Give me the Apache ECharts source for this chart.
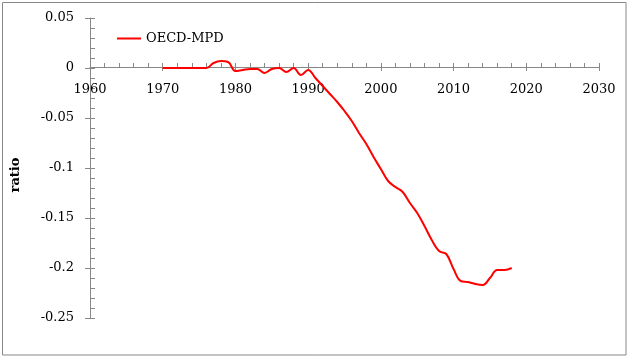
<!DOCTYPE html>
<html><head><meta charset="utf-8">
<script src="https://cdn.jsdelivr.net/npm/echarts@6/dist/echarts.min.js"></script>
<style>html,body{margin:0;padding:0;background:#fff}#c{width:629px;height:358px}</style>
</head><body><div id="c"></div>
<script>
var years = [1970,1971,1972,1973,1974,1975,1976,1977,1978,1979,1980,1981,1982,1983,1984,1985,1986,1987,1988,1989,1990,1991,1992,1993,1994,1995,1996,1997,1998,1999,2000,2001,2002,2003,2004,2005,2006,2007,2008,2009,2010,2011,2012,2013,2014,2015,2016,2017,2018];
var oecdMpd = [0,0,0,0,0,0,0,0.005,0.007,0.006,-0.003,-0.002,-0.001,-0.001,-0.005,-0.001,0,-0.004,0,-0.007,-0.002,-0.010,-0.018,-0.026,-0.034,-0.043,-0.053,-0.065,-0.076,-0.089,-0.101,-0.113,-0.119,-0.124,-0.135,-0.145,-0.158,-0.172,-0.183,-0.186,-0.201,-0.213,-0.214,-0.216,-0.217,-0.210,-0.202,-0.202,-0.200];
var seriesName = 'OECD-MPD';
var yName = 'ratio';

var font = 'DejaVu Serif';
var axisColor = '#888888';
var chart = echarts.init(document.getElementById('c'));
var data = years.map(function(y,i){return [y, oecdMpd[i]];});
// x axis drawn at y = 0: grid bottom at 318, zero at 67 -> offset -251
var zeroOffset = -251;
chart.setOption({
  animation:false,
  backgroundColor:'#ffffff',
  graphic:[{type:'rect', shape:{x:2.5,y:2.5,width:623.5,height:352.5}, style:{fill:'none', stroke:axisColor, lineWidth:1}, silent:true}],
  grid:{left:90, right:30, top:18, bottom:40, containLabel:false, outerBoundsMode:'none'},
  legend:{show:true, left:117, top:32, padding:0, itemWidth:24, itemHeight:10, itemGap:3,
    textStyle:{fontFamily:font, fontSize:13, color:'#000'}, data:[{name:seriesName, icon:'path://M0,4 L24,4 L24,6 L0,6 Z'}]},
  xAxis:[
    {type:'value', min:1960, max:2030, interval:10, position:'bottom', offset:zeroOffset,
      axisLine:{show:true, onZero:false, lineStyle:{color:axisColor,width:1}}, splitLine:{show:false},
      axisTick:{show:true, inside:true, length:4, lineStyle:{color:axisColor}},
      minorTick:{show:true, splitNumber:5, length:4, lineStyle:{color:axisColor}},
      axisLabel:{show:true, margin:16, fontFamily:font, fontSize:13, color:'#000', formatter:function(v){return String(v);}, showMinLabel:true, showMaxLabel:true, hideOverlap:false}
    },
    {type:'value', min:1960, max:2030, interval:10, position:'bottom', offset:zeroOffset,
      axisLine:{show:false, onZero:false}, splitLine:{show:false},
      axisTick:{show:true, inside:false, length:4, lineStyle:{color:axisColor}},
      axisLabel:{show:false}
    }
  ],
  yAxis:[
    {type:'value', min:-0.25, max:0.05, interval:0.05, position:'left',
      axisLine:{show:true, onZero:false, lineStyle:{color:axisColor,width:1}}, splitLine:{show:false},
      axisTick:{show:true, inside:true, length:5, lineStyle:{color:axisColor}},
      minorTick:{show:true, splitNumber:5, length:5, lineStyle:{color:axisColor}},
      axisLabel:{show:true, margin:16, fontFamily:font, fontSize:13, color:'#000', formatter:function(v){return String(Math.round(v*100)/100);}},
      name:yName, nameLocation:'middle', nameGap:68, nameRotate:90,
      nameTextStyle:{fontFamily:font, fontSize:13, fontWeight:'bold', color:'#000', padding:[0,14,0,0]}
    },
    {type:'value', min:-0.25, max:0.05, interval:0.05, position:'left',
      axisLine:{show:false, onZero:false}, splitLine:{show:false},
      axisTick:{show:true, inside:false, length:5, lineStyle:{color:axisColor}},
      axisLabel:{show:false}
    }
  ],
  series:[{name:seriesName, type:'line', xAxisIndex:0, yAxisIndex:0, data:data, smooth:0.4, symbol:'none', showSymbol:false,
    lineStyle:{color:'#ff0000', width:2}, itemStyle:{color:'#ff0000'}}]
});
</script></body></html>
